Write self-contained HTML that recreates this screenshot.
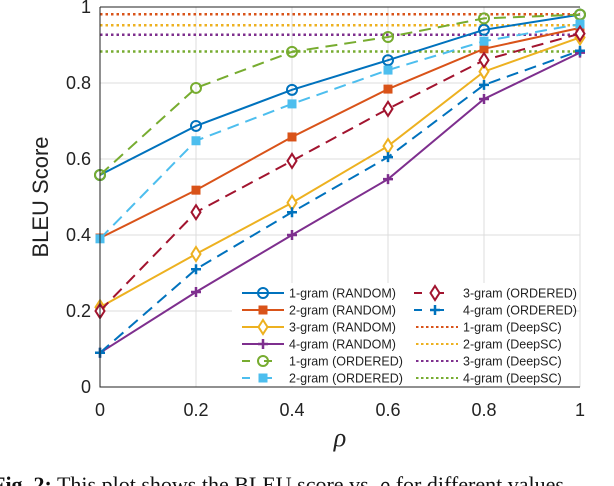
<!DOCTYPE html>
<html><head><meta charset="utf-8"><style>
body{margin:0;background:#fff;width:614px;height:486px;overflow:hidden}
svg{display:block}
.sans{font-family:"Liberation Sans",Arial,sans-serif}
.serif{font-family:"Liberation Serif","Times New Roman",serif}
</style></head><body>
<svg id="chart" class="sans" width="614" height="486" viewBox="0 0 614 486" xmlns="http://www.w3.org/2000/svg">
<g id="grid"></g>
<g id="series"></g>
<g id="axes"></g>
<g id="legend"></g>
<text class="sans" x="0" y="0" transform="translate(48,197) rotate(-90)" text-anchor="middle" font-size="22" fill="#222">BLEU Score</text>
<text class="serif" x="340" y="446" text-anchor="middle" font-size="26" font-style="italic" fill="#222">ρ</text>
<text class="serif" x="-8" y="492" font-size="22" fill="#111"><tspan font-weight="bold">Fig. 2:</tspan> This plot shows the BLEU score vs. <tspan font-style="italic">ρ</tspan> for different values</text>
</svg>
<script>
const xVals=[0,0.2,0.4,0.6,0.8,1];
const xTicks=["0","0.2","0.4","0.6","0.8","1"];
const yTicks=[0,0.2,0.4,0.6,0.8,1];
const yTickLabels=["0","0.2","0.4","0.6","0.8","1"];
const random1=[0.558,0.687,0.782,0.86,0.94,0.98];
const random2=[0.392,0.518,0.658,0.784,0.89,0.945];
const random3=[0.21,0.35,0.485,0.634,0.83,0.92];
const random4=[0.09,0.25,0.40,0.547,0.758,0.88];
const ordered1=[0.558,0.787,0.882,0.921,0.97,0.98];
const ordered2=[0.39,0.648,0.745,0.834,0.91,0.955];
const ordered3=[0.2,0.46,0.595,0.732,0.86,0.93];
const ordered4=[0.09,0.31,0.46,0.605,0.795,0.885];
const deepsc=[0.981,0.952,0.927,0.883];
const seriesNames=["1-gram (RANDOM)","2-gram (RANDOM)","3-gram (RANDOM)","4-gram (RANDOM)","1-gram (ORDERED)","2-gram (ORDERED)","3-gram (ORDERED)","4-gram (ORDERED)","1-gram (DeepSC)","2-gram (DeepSC)","3-gram (DeepSC)","4-gram (DeepSC)"];

const NS="http://www.w3.org/2000/svg";
const X0=100,X1=580,Y0=387,Y1=7;
const sx=v=>X0+(X1-X0)*v;
const sy=v=>Y0-(Y0-Y1)*v;
function mk(tag,attrs,parent){const e=document.createElementNS(NS,tag);for(const k in attrs)e.setAttribute(k,attrs[k]);parent.appendChild(e);return e;}
const grid=document.getElementById('grid'),ser=document.getElementById('series'),axes=document.getElementById('axes'),leg=document.getElementById('legend');
xVals.forEach((v,i)=>{
  const l=mk('line',{x1:sx(v),x2:sx(v),y1:Y1,y2:Y0,stroke:'#dcdcdc','stroke-width':1},grid);
  
  
  const t=mk('text',{x:sx(v),y:416,'text-anchor':'middle','font-size':18,fill:'#222'},axes);
  t.textContent=xTicks[i];
  
  
});
yTicks.forEach((v,i)=>{
  const l=mk('line',{x1:X0,x2:X1,y1:sy(v),y2:sy(v),stroke:'#dcdcdc','stroke-width':1},grid);
  
  
  const t=mk('text',{x:91,y:sy(v)+6,'text-anchor':'end','font-size':18,fill:'#222'},axes);
  t.textContent=yTickLabels[i];
  
  
});
const box=mk('path',{d:`M${X0},${Y1}V${Y0}H${X1}`,fill:'none',stroke:'#222','stroke-width':1},axes);


const topL=mk('line',{x1:X0,x2:X1,y1:Y1,y2:Y1,stroke:'#222','stroke-width':1},axes);



const C={b:'#0072BD',o:'#D95319',y:'#EDB120',p:'#7E2F8E',g:'#77AC30',c:'#4DBEEE',r:'#A2142F'};
const defs=[
 {d:random1,c:C.b,dash:'',m:'circle'},
 {d:random2,c:C.o,dash:'',m:'square'},
 {d:random3,c:C.y,dash:'',m:'diamond'},
 {d:random4,c:C.p,dash:'',m:'plus'},
 {d:ordered1,c:C.g,dash:'12 7',m:'circle'},
 {d:ordered2,c:C.c,dash:'12 7',m:'square'},
 {d:ordered3,c:C.r,dash:'12 7',m:'diamond'},
 {d:ordered4,c:C.b,dash:'12 7',m:'plus'}
];
const dcol=[C.o,C.y,C.p,C.g];
function marker(type,x,y,c,parent){
  let e;
  if(type==='circle')e=mk('circle',{cx:x,cy:y,r:5,fill:'none',stroke:c,'stroke-width':2},parent);
  else if(type==='square')e=mk('rect',{x:x-4,y:y-4,width:8,height:8,fill:c,stroke:c},parent);
  else if(type==='diamond')e=mk('path',{d:`M${x},${y-7}L${x+4.5},${y}L${x},${y+7}L${x-4.5},${y}Z`,fill:'#fff',stroke:c,'stroke-width':2},parent);
  else e=mk('path',{d:`M${x-5},${y}H${x+5}M${x},${y-5}V${y+5}`,stroke:c,'stroke-width':2.5},parent);
  
  
}
deepsc.forEach((v,i)=>{
  const l=mk('line',{x1:X0,x2:X1,y1:sy(v),y2:sy(v),stroke:dcol[i],'stroke-width':2.5,'stroke-dasharray':'2.5 3'},ser);
  
  
});
defs.forEach(s=>{
  const pts=s.d.map((v,i)=>sx(xVals[i])+','+sy(v)).join(' ');
  const pl=mk('polyline',{points:pts,fill:'none',stroke:s.c,'stroke-width':2,'stroke-dasharray':s.dash},ser);
  
  
  s.d.forEach((v,i)=>marker(s.m,sx(xVals[i]),sy(v),s.c,ser));
});

const lb=mk('rect',{x:232,y:283,width:340,height:103,fill:'#fff',stroke:'none'},leg);


for(let i=0;i<12;i++){
  const col=i<6?0:1,row=i%6;
  const lx=col?414:242,ty=293+row*17;
  const tx=col?463:289;
  const g=mk('g',{},leg);
  
  
  if(i<8){
    const s=defs[i];
    mk('line',{x1:lx,x2:lx+42,y1:ty,y2:ty,stroke:s.c,'stroke-width':2,'stroke-dasharray':s.dash?'8 14':''},g);
    marker(s.m,lx+21,ty,s.c,g);
  }else{
    mk('line',{x1:lx+2,x2:lx+44,y1:ty,y2:ty,stroke:dcol[i-8],'stroke-width':2,'stroke-dasharray':'2.5 2.5'},g);
  }
  const t=mk('text',{x:tx,y:ty+4.5,'font-size':12.5,fill:'#222'},g);
  t.textContent=seriesNames[i];
}
</script>
</body></html>
